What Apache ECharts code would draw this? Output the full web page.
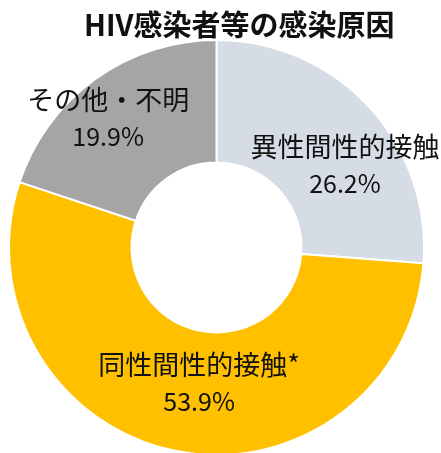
<!DOCTYPE html>
<html>
<head>
<meta charset="utf-8">
<script src="https://cdn.jsdelivr.net/npm/echarts@6/dist/echarts.min.js"></script>
<style>
  html, body { margin: 0; padding: 0; background: #fff; }
  #chart { width: 441px; height: 453px; }
</style>
</head>
<body>
<div id="chart"></div>
<script>
// 感染原因の内訳
const names = ['異性間性的接触', '同性間性的接触*', 'その他・不明'];
const values = [26.2, 53.9, 19.9];
const colors = ['#d6dce5', '#ffc000', '#a5a5a5'];
// ラベルの微調整 (px)
const labelShift = [[19, 19], [12, -11], [-21, -8]];

const chart = echarts.init(document.getElementById('chart'));
const option = {
  animation: false,
  title: {
    text: 'HIV感染者等の感染原因',
    left: 79,
    top: 5,
    textStyle: {
      fontFamily: 'Noto Sans CJK JP',
      fontSize: 29,
      fontWeight: 'bold',
      color: '#111'
    }
  },
  series: [
    {
      type: 'pie',
      center: [216.5, 247.5],
      radius: [85, 207.5],
      startAngle: 90,
      clockwise: true,
      itemStyle: {
        borderColor: '#fff',
        borderWidth: 2
      },
      label: {
        position: 'inside',
        fontFamily: 'Noto Sans CJK JP',
        color: '#111',
        formatter: p => '{n|' + p.name + '}\n{v|' + p.value.toFixed(1) + '%}',
        rich: {
          n: { fontFamily: 'Noto Sans CJK JP', fontSize: 27, lineHeight: 37, color: '#111' },
          v: { fontFamily: 'Noto Sans CJK JP', fontSize: 25, lineHeight: 37, color: '#111' }
        }
      },
      labelLine: { show: false },
      labelLayout: p => ({ dx: labelShift[p.dataIndex][0], dy: labelShift[p.dataIndex][1] }),
      data: names.map((n, i) => ({
        name: n,
        value: values[i],
        itemStyle: { color: colors[i] }
      }))
    }
  ]
};
chart.setOption(option);
</script>
</body>
</html>
